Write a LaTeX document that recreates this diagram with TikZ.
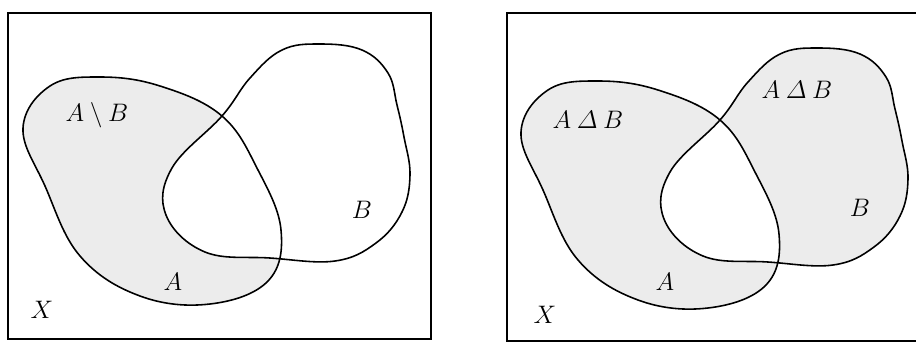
\documentclass[tikz,border=0pt]{standalone}
\usepackage{amsmath,amssymb}
\usepackage{tikz}
\usetikzlibrary{calc,positioning}

% outlines of the two sets (pixel grid of the left panel)
\newcommand{\setA}{plot[smooth cycle, tension=0.65] coordinates {(23,128) (50,86) (100,77) (160,86) (222,116) (258,170) (281,230) (268,281) (210,304) (140,296) (80,256) (45,186)}}
\newcommand{\setB}{plot[smooth cycle, tension=0.65] coordinates {(320,44) (362,50) (388,73) (397,105) (404,137) (410,175) (402,212) (376,243) (335,261) (270,258) (205,252) (166,215) (172,168) (222,116) (250,78) (282,50)}}

\tikzset{
  frame/.style={line width=0.8pt},
  outline/.style={line width=0.9pt},
  dotfill/.style={fill=gray!15},
  lab/.style={font=\Large}
}

\begin{document}
\begin{tikzpicture}[x=0.02cm, y=-0.02cm]
\useasboundingbox (0,0) rectangle (916,342);
% --- left: difference ---
\draw[frame] (8,13) rectangle (431,339);
\fill[dotfill] \setA;
\fill[white] \setB;
\draw[outline] \setA;
\draw[outline] \setB;
\node[lab] (diff) at (97,115) {$A\setminus B$};
\node[lab] (lB) at (362,210) {$B$};
\node[lab] (lA) at (173,282) {$A$};
\node[lab] (lX) at (42,310) {$X$};
% --- right: symmetric difference ---
\draw[frame] (916,13) -- (507,13) -- (507,341) -- (916,341);
\begin{scope}[shift={(498,4)}]
\fill[dotfill, even odd rule] \setA \setB;
\draw[outline] \setA;
\draw[outline] \setB;
\end{scope}
\node[lab] (sdA) at (588,120) {$A\mathbin{\varDelta}B$};
\node[lab] (sdB) at (797,90) {$A\mathbin{\varDelta}B$};
\node[lab] (rB) at (860,208) {$B$};
\node[lab] (rA) at (665,282) {$A$};
\node[lab] (rX) at (545,315) {$X$};
\end{tikzpicture}
\end{document}
